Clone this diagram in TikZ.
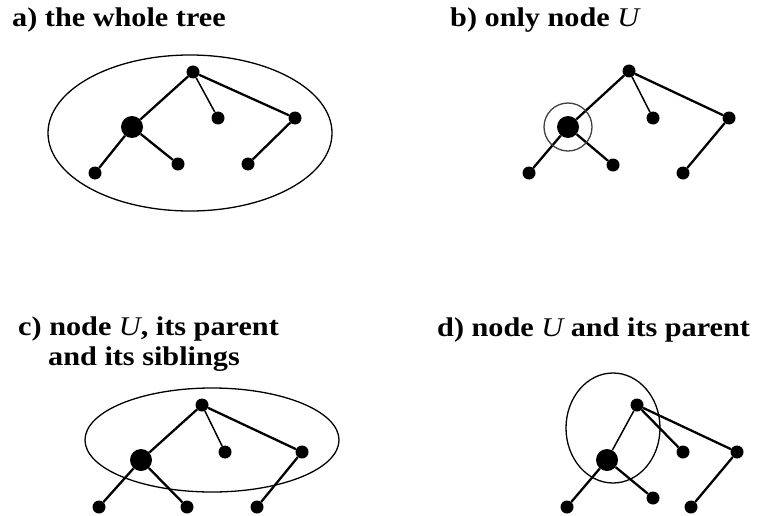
\documentclass[tikz,border=0pt]{standalone}
\usepackage{fontspec}
\setmainfont{Liberation Serif}[FakeStretch=1.12]
\usetikzlibrary{positioning}

\begin{document}
\begin{tikzpicture}[x=1pt, y=-1pt]
  \tikzset{
    dot/.style={circle, fill=black, inner sep=0pt, minimum size=13pt},
    unode/.style={circle, fill=black, inner sep=0pt, minimum size=22pt},
    branch/.style={line width=2.3pt},
    twig/.style={line width=1.5pt},
    group/.style={line width=1.3pt},
    title/.style={anchor=base west, inner sep=0pt,
      font=\fontsize{27}{32}\selectfont\bfseries}
  }
  \useasboundingbox (0,0) rectangle (762,516);

  % a) the whole tree
  \node[title] (aTitle) at (12,27) {a) the whole tree};
  \node[dot] (aR) at (193,72) {};
  \node[unode] (aU) at (132,127) {};
  \node[dot] (aM) at (218,118) {};
  \node[dot] (aS) at (295,118) {};
  \node[dot] (aL) at (95,173) {};
  \node[dot] (aK) at (178,164) {};
  \node[dot] (aT) at (248,164) {};
  \draw[branch] (aR) -- (aU);
  \draw[twig] (aR) -- (aM);
  \draw[branch] (aR) -- (aS);
  \draw[branch] (aU) -- (aL);
  \draw[branch] (aU) -- (aK);
  \draw[branch] (aS) -- (aT);
  \draw[group] (190,133) ellipse [x radius=142pt, y radius=78pt];

  % b) only node U
  \node[title] (bTitle) at (450,27) {b) only node {\mdseries\itshape U}};
  \node[dot] (bR) at (629,71) {};
  \node[unode] (bU) at (568,127) {};
  \node[dot] (bM) at (653,118) {};
  \node[dot] (bS) at (729,118) {};
  \node[dot] (bL) at (529,173) {};
  \node[dot] (bK) at (613,165) {};
  \node[dot] (bT) at (683,173) {};
  \draw[branch] (bR) -- (bU);
  \draw[twig] (bR) -- (bM);
  \draw[branch] (bR) -- (bS);
  \draw[branch] (bU) -- (bL);
  \draw[branch] (bU) -- (bK);
  \draw[branch] (bS) -- (bT);
  \draw[group, black!75] (bU.center) circle [radius=24pt];

  % c) node U, its parent and its siblings
  \node[title] (cTitle) at (18,335) {c) node {\mdseries\itshape U}, its parent};
  \node[title] (cTitleB) at (48,365) {and its siblings};
  \node[dot] (cR) at (202,405) {};
  \node[unode] (cU) at (141,460) {};
  \node[dot] (cM) at (225,452) {};
  \node[dot] (cS) at (302,452) {};
  \node[dot] (cL) at (99,507) {};
  \node[dot] (cK) at (187,507) {};
  \node[dot] (cT) at (257,507) {};
  \draw[branch] (cR) -- (cU);
  \draw[twig] (cR) -- (cM);
  \draw[branch] (cR) -- (cS);
  \draw[branch] (cU) -- (cL);
  \draw[branch] (cU) -- (cK);
  \draw[branch] (cS) -- (cT);
  \draw[group] (212,440) ellipse [x radius=127pt, y radius=52pt];

  % d) node U and its parent
  \node[title] (dTitle) at (437,336) {d) node {\mdseries\itshape U} and its parent};
  \node[dot] (dR) at (637,405) {};
  \node[unode] (dU) at (607,460) {};
  \node[dot] (dM) at (683,452) {};
  \node[dot] (dS) at (737,452) {};
  \node[dot] (dL) at (567,507) {};
  \node[dot] (dK) at (653,498) {};
  \node[dot] (dT) at (691,507) {};
  \draw[twig] (dR) -- (dU);
  \draw[branch] (dR) -- (dM);
  \draw[branch] (dR) -- (dS);
  \draw[branch] (dU) -- (dL);
  \draw[branch] (dU) -- (dK);
  \draw[branch] (dS) -- (dT);
  \draw[group] (613,428) ellipse [x radius=47pt, y radius=55pt];
\end{tikzpicture}
\end{document}
